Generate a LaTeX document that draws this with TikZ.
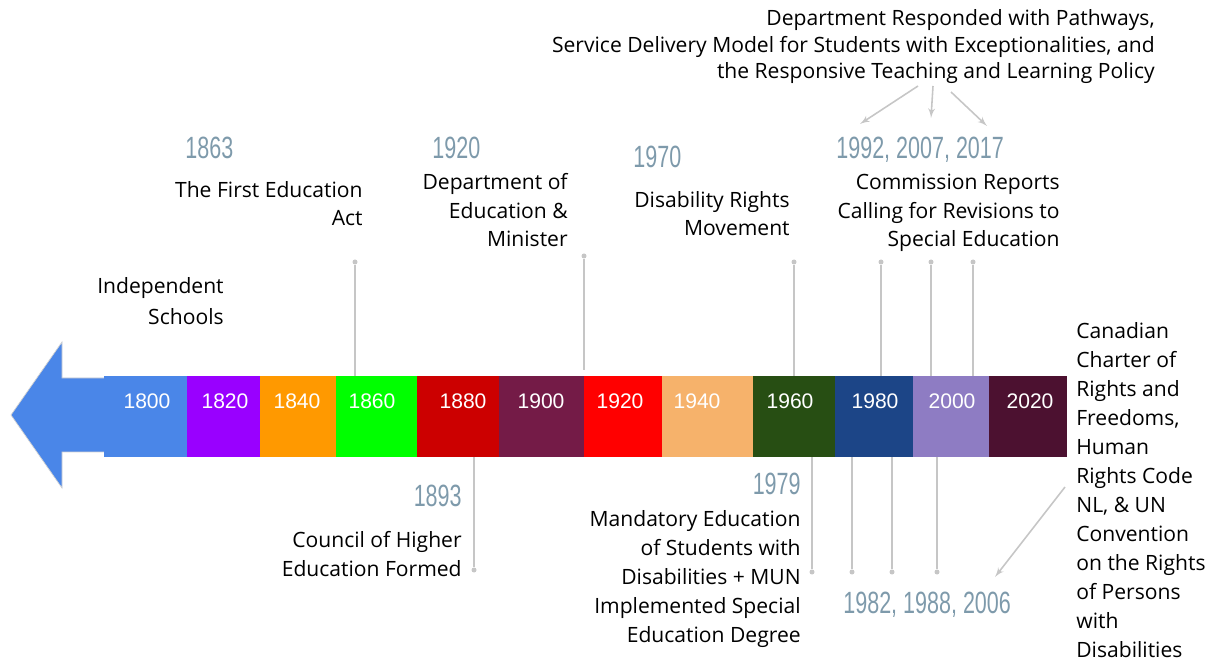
\documentclass[tikz,border=0pt]{standalone}
\usepackage{fontspec}
\setmainfont{Open Sans}
\newfontfamily\barfont{Liberation Sans}
\newfontfamily\yearfont[FakeStretch=0.7]{Liberation Sans}
\usetikzlibrary{arrows}
\definecolor{c1800}{HTML}{4A86E8}
\definecolor{c1820}{HTML}{9900FF}
\definecolor{c1840}{HTML}{FF9900}
\definecolor{c1860}{HTML}{00FF00}
\definecolor{c1880}{HTML}{CC0000}
\definecolor{c1900}{HTML}{741B47}
\definecolor{c1920}{HTML}{FF0000}
\definecolor{c1940}{HTML}{F6B26B}
\definecolor{c1960}{HTML}{274E13}
\definecolor{c1980}{HTML}{1C4587}
\definecolor{c2000}{HTML}{8E7CC3}
\definecolor{c2020}{HTML}{4C1130}
\definecolor{yeargray}{HTML}{7E9AAB}
\definecolor{stemgray}{HTML}{C6C6C6}
\tikzset{
    era/.style={rectangle,inner sep=0pt,outer sep=0pt,minimum height=1.62cm},
    eralabel/.style={inner sep=0pt,text=white,font=\barfont\fontsize{12}{14}\selectfont},
    event/.style={inner sep=0pt,font=\fontsize{12}{16.5}\selectfont},
    year/.style={inner sep=0pt,text=yeargray,font=\yearfont\fontsize{17.5}{20}\selectfont},
    dot/.style={circle,fill=stemgray,inner sep=0pt,minimum size=0.1cm},
    stem/.style={draw=stemgray,line width=1.1pt},
    pointer/.style={->,> = latex',draw=stemgray,line width=0.9pt}
}
\begin{document}
\begin{tikzpicture}[x=0.02cm,y=-0.02cm]
\useasboundingbox (0,0) rectangle (1216,661);
% timeline bar
\fill[c1800,draw=gray!35] (11,415) -- (62,342) -- (62,378) -- (105,378) -- (105,452) -- (62,452) -- (62,488) -- cycle;
\foreach \yr/\xa/\xb/\lx in {1800/104/187/147, 1820/187/260/225, 1840/260/336/297, 1860/336/417/372,
    1880/417/499/463, 1900/499/584/541, 1920/584/662/620, 1940/662/753/697,
    1960/753/835/790, 1980/835/913/875, 2000/913/989/952, 2020/989/1067/1030}{
    \pgfmathsetmacro\segw{0.02*(\xb-\xa)}
    \node[era,fill=c\yr,minimum width=\segw cm,anchor=north west] (s\yr) at (\xa,376) {};
    \node[eralabel] (l\yr) at (\lx,401) {\yr};
}
% events above
\node[event,align=right,anchor=base east,font=\fontsize{12}{18.2}\selectfont] (indep) at (224,325) {Independent\\Schools};
\node[year,anchor=base west] (y1863) at (185,159) {1863};
\node[event,align=right,anchor=base east] (t1863) at (363,226) {The First Education\\Act};
\node[year,anchor=base west] (y1920) at (432,159) {1920};
\node[event,align=right,anchor=base east] (t1920) at (568,247) {Department of\\Education \&\\Minister};
\node[year,anchor=base west] (y1970) at (633,168) {1970};
\node[event,align=right,anchor=base east] (t1970) at (790,236) {Disability Rights\\Movement};
\node[year,anchor=base west] (y1992) at (836,159) {1992, 2007, 2017};
\node[event,align=right,anchor=base east] (t1992) at (1060,247) {Commission Reports\\Calling for Revisions to\\Special Education};
\node[event,align=right,anchor=base east,font=\fontsize{12}{15.1}\selectfont] (resp) at (1155,79)
    {Department Responded with Pathways,\\Service Delivery Model for Students with Exceptionalities, and\\the Responsive Teaching and Learning Policy};
% events below
\node[year,anchor=base east] (y1893) at (462,506) {1893};
\node[event,align=right,anchor=base east] (t1893) at (462,576) {Council of Higher\\Education Formed};
\node[year,anchor=base east] (y1979) at (801,495) {1979};
\node[event,align=right,anchor=base east] (t1979) at (801,642) {Mandatory Education\\of Students with\\Disabilities + MUN\\Implemented Special\\Education Degree};
\node[year,anchor=base west] (y1982) at (843,613) {1982, 1988, 2006};
\node[event,align=left,anchor=base west,font=\fontsize{12}{16.5}\selectfont] (charter) at (1076,657)
    {Canadian\\Charter of\\Rights and\\Freedoms,\\Human\\Rights Code\\NL, \& UN\\Convention\\on the Rights\\of Persons\\with\\Disabilities};
% stems
\node[dot] (d1863) at (355,262) {};
\node[dot] (d1920) at (584,256) {};
\node[dot] (d1970) at (794,262) {};
\node[dot] (d1992) at (881,262) {};
\node[dot] (d2007) at (931,262) {};
\node[dot] (d2017) at (973,262) {};
\node[dot] (d1893) at (474,570) {};
\node[dot] (d1979) at (812,572) {};
\node[dot] (d1982) at (852,572) {};
\node[dot] (d1988) at (892,572) {};
\node[dot] (d2006) at (937,572) {};
\draw[stem] (d1863) -- (d1863 |- s1860.north);
\draw[stem] (d1920) -- ([yshift=0.12cm]d1920 |- s1920.north);
\draw[stem] (d1970) -- (d1970 |- s1960.north);
\draw[stem] (d1992) -- (d1992 |- s1980.north);
\draw[stem] (d2007) -- (d2007 |- s2000.north);
\draw[stem] (d2017) -- (d2017 |- s2000.north);
\draw[stem] (d1893) -- (d1893 |- s1880.south);
\draw[stem] (d1979) -- (d1979 |- s1960.south);
\draw[stem] (d1982) -- (d1982 |- s1980.south);
\draw[stem] (d1988) -- (d1988 |- s1980.south);
\draw[stem] (d2006) -- (d2006 |- s2000.south);
% pointers
\coordinate (p1) at (918,86);
\coordinate (p2) at (933,86);
\coordinate (p3) at (951,92);
\coordinate (q1) at (860,124);
\coordinate (q2) at (931,118);
\coordinate (q3) at (987,126);
\coordinate (p4) at (1065,487);
\coordinate (q4) at (995,577);
\draw[pointer] (p1) -- (q1);
\draw[pointer] (p2) -- (q2);
\draw[pointer] (p3) -- (q3);
\draw[pointer] (p4) -- (q4);
\end{tikzpicture}
\end{document}
